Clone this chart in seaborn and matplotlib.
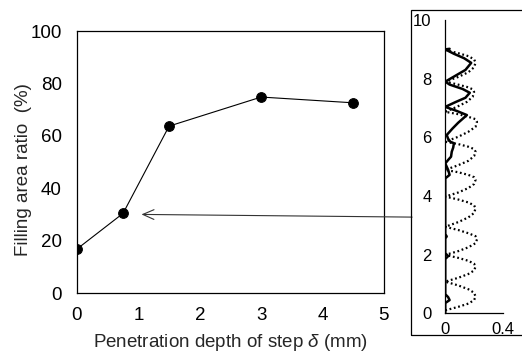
import matplotlib
matplotlib.use("Agg")
import matplotlib.pyplot as plt
import seaborn as sns
import numpy as np
import pandas as pd
from matplotlib.patches import Rectangle

# ---- data ----
depth = [0.0, 0.75, 1.5, 3.0, 4.5]
filling = [16.8, 30.4, 63.7, 74.8, 72.6]

# inset: filled profile (solid), ordered from bottom to top
solid_y = [0.0, 0.35, 0.45, 0.55, 0.65, 1.85, 1.95, 2.05, 2.55, 2.62, 2.70,
           4.60, 4.72, 4.89, 5.11, 5.23, 5.34, 5.51, 5.65, 5.80, 5.85, 5.95, 6.08,
           6.30, 6.50, 6.76, 6.90, 7.04, 7.20, 7.35, 7.52, 7.65, 7.80, 7.90,
           8.10, 8.30, 8.54, 8.70, 8.85, 9.00, 9.02]
solid_x = [0.0, 0.0, 0.03, 0.02, 0.0, 0.0, 0.02, 0.0, 0.0, 0.01, 0.0,
           0.0, 0.03, 0.02, 0.0, 0.02, 0.04, 0.045, 0.055, 0.06, 0.035, 0.02, 0.01,
           0.05, 0.09, 0.15, 0.08, 0.0, 0.07, 0.14, 0.17, 0.12, 0.03, 0.0,
           0.07, 0.14, 0.18, 0.13, 0.06, 0.0, 0.03]

# inset: ideal profile (dotted)
ideal_y = [0.10, 0.22, 0.33, 0.45, 0.57, 0.70, 0.82, 0.95,
           1.08, 1.21, 1.34, 1.46, 1.59, 1.69, 1.79, 1.89,
           1.99, 2.12, 2.25, 2.39, 2.52, 2.63, 2.73, 2.84,
           2.95, 3.11, 3.27, 3.42, 3.58, 3.68, 3.78, 3.88,
           3.98, 4.12, 4.27, 4.41, 4.55, 4.64, 4.72, 4.81,
           4.89, 5.05, 5.20, 5.36, 5.51, 5.60, 5.68, 5.77,
           5.85, 6.02, 6.19, 6.36, 6.53, 6.62, 6.70, 6.79,
           6.87, 7.04, 7.21, 7.38, 7.55, 7.64, 7.72, 7.81,
           7.90, 8.06, 8.22, 8.39, 8.55, 8.66, 8.77, 8.87, 8.98]
ideal_x = [0.0, 0.09, 0.16, 0.20, 0.21, 0.20, 0.16, 0.09,
           0.0, 0.09, 0.16, 0.20, 0.21, 0.20, 0.16, 0.09,
           0.0, 0.09, 0.16, 0.21, 0.22, 0.21, 0.16, 0.09,
           0.0, 0.09, 0.16, 0.20, 0.21, 0.20, 0.16, 0.09,
           0.0, 0.09, 0.16, 0.20, 0.21, 0.20, 0.16, 0.09,
           0.0, 0.09, 0.16, 0.20, 0.21, 0.20, 0.16, 0.09,
           0.0, 0.09, 0.16, 0.21, 0.22, 0.21, 0.16, 0.09,
           0.0, 0.08, 0.15, 0.19, 0.20, 0.19, 0.15, 0.08,
           0.0, 0.09, 0.16, 0.20, 0.21, 0.20, 0.16, 0.09, 0.0]

main_xticks = [0, 1, 2, 3, 4, 5]
main_yticks = [0, 20, 40, 60, 80, 100]
inset_yticks = [0, 2, 4, 6, 8, 10]
inset_xticks = [0, 0.4]

# ---- style ----
sns.set_style("white")
plt.rcParams["font.family"] = ["Liberation Sans", "DejaVu Sans"]
plt.rcParams["mathtext.fontset"] = "custom"
plt.rcParams["mathtext.rm"] = "Liberation Sans"
plt.rcParams["mathtext.it"] = "Liberation Sans:italic"

fig = plt.figure(figsize=(5.22, 3.55), dpi=100)
ax = fig.add_axes([0.1475, 0.1746, 0.588, 0.738])

df_main = pd.DataFrame({"depth": depth, "filling": filling})
sns.lineplot(data=df_main, x="depth", y="filling", ax=ax, color="black",
             linewidth=0.8, marker="o", markersize=7, markeredgecolor="black",
             markerfacecolor="black")
ax.set_xlim(0, 5)
ax.set_ylim(0, 100)
ax.set_xticks(main_xticks)
ax.set_yticks(main_yticks)
ax.tick_params(axis="x", direction="in", length=4, width=0.8, pad=10,
               labelsize=13.5, colors="black")
ax.tick_params(axis="y", length=0, pad=11, labelsize=13.5, colors="black")
for s in ax.spines.values():
    s.set_color("black")
    s.set_linewidth(0.9)
ax.set_xlabel("Penetration depth of step $\\delta$ (mm)", fontsize=13.5, labelpad=6)
ax.set_ylabel("Filling area ratio  (%)", fontsize=13.5)
ax.yaxis.set_label_coords(-0.147, 0.471)

# ---- inset frame ----
fig.patches.append(Rectangle((0.787, 0.0563), 0.3, 0.9155, transform=fig.transFigure,
                             fill=False, edgecolor="black", linewidth=0.9))

axi = fig.add_axes([0.853, 0.1175, 0.1105, 0.826])
axi.patch.set_alpha(0)
df_ideal = pd.DataFrame({"x": ideal_x, "y": ideal_y})
df_solid = pd.DataFrame({"x": solid_x, "y": solid_y})
sns.lineplot(data=df_ideal, x="x", y="y", ax=axi, sort=False, estimator=None,
             color="black", linewidth=1.6, linestyle=(0, (0.8, 1.2)))
sns.lineplot(data=df_solid, x="x", y="y", ax=axi, sort=False, estimator=None,
             color="black", linewidth=1.8)
axi.set_xlim(0, 0.4)
axi.set_ylim(0, 10)
axi.set_xticks(inset_xticks)
axi.set_xticklabels(["0", "0.4"])
axi.set_yticks(inset_yticks)
axi.set_yticks([10], minor=True)
axi.set_xticks([0.4], minor=True)
axi.tick_params(axis="both", which="major", length=0, labelsize=12, colors="black")
axi.tick_params(axis="y", which="major", pad=10)
axi.tick_params(axis="x", which="major", pad=6)
axi.tick_params(axis="both", which="minor", direction="in", length=3, width=0.8,
                labelsize=0)
axi.spines["top"].set_visible(False)
axi.spines["right"].set_visible(False)
for s in ["left", "bottom"]:
    axi.spines[s].set_color("black")
    axi.spines[s].set_linewidth(0.9)
axi.set_xlabel("")
axi.set_ylabel("")

# ---- arrow ----
ax.annotate("", xy=(1.05, 30.0), xycoords=ax.transData,
            xytext=(-0.23, 3.28), textcoords=axi.transData,
            arrowprops=dict(arrowstyle="->,head_length=0.8,head_width=0.35",
                            color="#333333", lw=0.8, shrinkA=0, shrinkB=0),
            annotation_clip=False)

fig.savefig("out.png", dpi=100)
